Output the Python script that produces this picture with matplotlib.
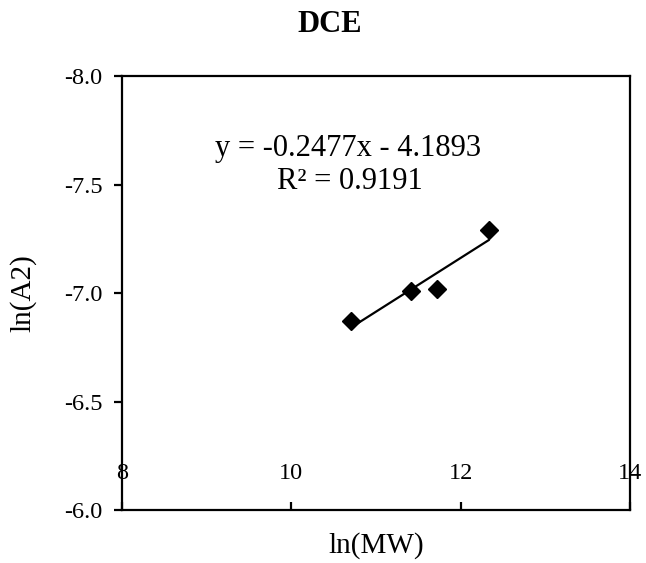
import numpy as np
import matplotlib
matplotlib.use("Agg")
import matplotlib.pyplot as plt
from matplotlib.ticker import FormatStrFormatter

plt.rcParams['font.family'] = ['Liberation Serif', 'DejaVu Serif']
plt.rcParams['axes.unicode_minus'] = False

# data
ln_mw = [10.70, 11.41, 11.72, 12.33]
ln_a2 = [-6.87, -7.01, -7.02, -7.29]

# Excel trendline as printed on the chart
slope = -0.2477
intercept = -4.1893
x_ticks = [8, 10, 12, 14]
y_ticks = [-8.0, -7.5, -7.0, -6.5, -6.0]

fig = plt.figure(figsize=(6.46, 5.63), dpi=100)
ax = fig.add_axes([0.1889, 0.0941, 0.7863, 0.7709])

ax.plot(ln_mw, ln_a2, linestyle="none", marker="D", markersize=9.5,
        color="black", zorder=3)

xt = np.array([min(ln_mw), max(ln_mw)])
ax.plot(xt, slope * xt + intercept, color="black", linewidth=1.6, zorder=2)

ax.set_xlim(8, 14)
ax.set_ylim(-6.0, -8.0)
ax.set_xticks(x_ticks)
ax.set_yticks(y_ticks)
ax.yaxis.set_major_formatter(FormatStrFormatter('%.1f'))

for s in ax.spines.values():
    s.set_linewidth(1.6)
    s.set_color("black")

# x labels sit inside the box, above the bottom axis (reversed y axis)
ax.tick_params(axis='x', direction='in', length=6, width=1.6,
               labelsize=17.5, pad=-34)
ax.tick_params(axis='y', direction='out', length=6, width=1.6,
               labelsize=17.5, pad=8)

ax.set_xlabel("ln(MW)", fontsize=21, labelpad=16)
ax.set_ylabel("ln(A2)", fontsize=21, labelpad=20)
fig.text(0.51, 0.956, "DCE", fontsize=22, fontweight="bold",
         ha="center", va="center")

ax.text(0.445, 0.834, "y = -0.2477x - 4.1893", transform=ax.transAxes,
        ha="center", va="center", fontsize=22)
ax.text(0.449, 0.756, "R² = 0.9191", transform=ax.transAxes,
        ha="center", va="center", fontsize=22)

fig.savefig("out.png", dpi=100)
